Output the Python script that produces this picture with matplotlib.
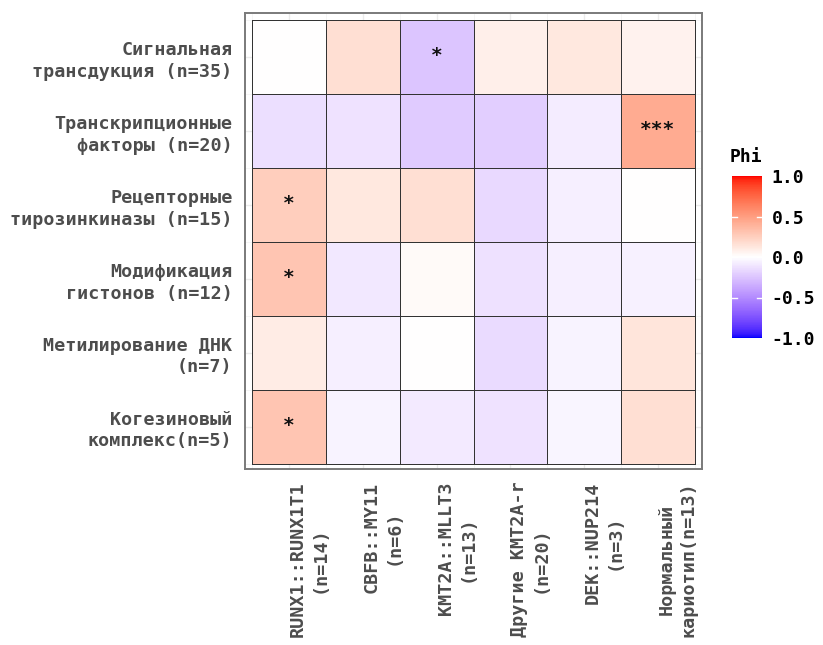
import numpy as np
import matplotlib
matplotlib.use("Agg")
import matplotlib.pyplot as plt
from matplotlib.colors import ListedColormap

plt.rcParams['font.family'] = ['DejaVu Sans Mono', 'DejaVu Sans']
plt.rcParams['font.weight'] = 'bold'

rows = ["Сигнальная\nтрансдукция (n=35)",
        "Транскрипционные\nфакторы (n=20)",
        "Рецепторные\nтирозинкиназы (n=15)",
        "Модификация\nгистонов (n=12)",
        "Метилирование ДНК\n(n=7)",
        "Когезиновый\nкомплекс(n=5)"]
cols = ["RUNX1::RUNX1T1\n(n=14)", "CBFB::MY11\n(n=6)", "KMT2A::MLLT3\n(n=13)",
        "Другие KMT2A-r\n(n=20)", "DEK::NUP214\n(n=3)", "Нормальный\nкариотип(n=13)"]

phi = np.array([
    [0.00, 0.17, -0.25, 0.08, 0.12, 0.07],
    [-0.14, -0.12, -0.22, -0.21, -0.08, 0.43],
    [0.25, 0.12, 0.17, -0.16, -0.07, 0.00],
    [0.30, -0.10, 0.03, -0.13, -0.07, -0.06],
    [0.10, -0.07, 0.00, -0.15, -0.05, 0.14],
    [0.30, -0.05, -0.09, -0.12, -0.04, 0.17],
])
stars = [
    ["", "", "*", "", "", ""],
    ["", "", "", "", "", "***"],
    ["*", "", "", "", "", ""],
    ["*", "", "", "", "", ""],
    ["", "", "", "", "", ""],
    ["*", "", "", "", "", ""],
]


# blue - white - red ramp interpolated in CIE Lab
def to_lab(rgb):
    c = np.asarray(rgb, float)
    c = np.where(c > 0.04045, ((c + 0.055) / 1.055) ** 2.4, c / 12.92)
    m = np.array([[0.4124, 0.3576, 0.1805],
                  [0.2126, 0.7152, 0.0722],
                  [0.0193, 0.1192, 0.9505]])
    xyz = m @ c / np.array([0.95047, 1.0, 1.08883])
    f = np.where(xyz > 0.008856, np.cbrt(xyz), 7.787 * xyz + 16 / 116)
    return np.array([116 * f[1] - 16, 500 * (f[0] - f[1]), 200 * (f[1] - f[2])])


def from_lab(lab):
    L, a, b = lab
    fy = (L + 16) / 116
    fx = fy + a / 500
    fz = fy - b / 200
    f = np.array([fx, fy, fz])
    xyz = np.where(f ** 3 > 0.008856, f ** 3, (f - 16 / 116) / 7.787)
    xyz = xyz * np.array([0.95047, 1.0, 1.08883])
    minv = np.array([[3.2406, -1.5372, -0.4986],
                     [-0.9689, 1.8758, 0.0415],
                     [0.0557, -0.2040, 1.0570]])
    c = minv @ xyz
    c = np.where(c > 0.0031308, 1.055 * np.clip(c, 0, None) ** (1 / 2.4) - 0.055, 12.92 * c)
    return np.clip(c, 0, 1)


lab_lo, lab_mid, lab_hi = to_lab([0, 0, 1]), to_lab([1, 1, 1]), to_lab([1, 0, 0])
ramp = []
for v in np.linspace(-1, 1, 256):
    if v < 0:
        ramp.append(from_lab(lab_mid + (lab_lo - lab_mid) * (-v)))
    else:
        ramp.append(from_lab(lab_mid + (lab_hi - lab_mid) * v))
cmap = ListedColormap(ramp)

fig = plt.figure(figsize=(8.23, 6.45), dpi=100)
ax = fig.add_axes([245 / 823, 1 - 469 / 645, 457 / 823, 456 / 645])

n = len(rows)
ax.set_xlim(-0.6, len(cols) - 0.4)
ax.set_ylim(n - 0.43, -0.6)
ax.set_xticks(range(len(cols)))
ax.set_yticks(range(n))
ax.grid(True, color='#ebebeb', lw=1)
ax.set_xticks(np.arange(-0.5, len(cols), 1), minor=True)
ax.set_yticks(np.arange(-0.5, n, 1), minor=True)
ax.grid(True, which='minor', color='#f4f4f4', lw=0.6)
ax.set_axisbelow(True)

mesh = ax.pcolormesh(np.arange(-0.5, len(cols)), np.arange(-0.5, n), phi,
                     cmap=cmap, vmin=-1, vmax=1, edgecolors='#333333', linewidth=0.7)
for i in range(n):
    for j in range(len(cols)):
        if stars[i][j]:
            ax.text(j, i - 0.02, stars[i][j], ha='center', va='center',
                    fontsize=14, color='#111111')

ax.set_yticklabels(rows, fontsize=13.2, color='#4d4d4d', linespacing=1.25)
ax.set_xticklabels(cols, fontsize=13.2, color='#4d4d4d', rotation=90,
                   rotation_mode='anchor', ha='right', va='top',
                   multialignment='center', linespacing=1.25)
ax.tick_params(which='major', length=0, pad=9)
ax.tick_params(which='minor', length=0)
for s in ax.spines.values():
    s.set_color('#7a7a7a')
    s.set_linewidth(1.4)

cax = fig.add_axes([732 / 823, 1 - 338 / 645, 30 / 823, 162 / 645])
cb = fig.colorbar(mesh, cax=cax, ticks=[-1, -0.5, 0, 0.5, 1])
cb.outline.set_visible(False)
cb.ax.set_yticklabels(['-1.0', '-0.5', '0.0', '0.5', '1.0'], fontsize=13, color='black')
cb.ax.tick_params(length=0, pad=7)
for t in [-0.5, 0, 0.5]:
    cax.plot([0, 0.18], [t, t], color='white', lw=1)
    cax.plot([0.82, 1], [t, t], color='white', lw=1)
fig.text(730 / 823, 1 - 157 / 645, 'Phi', fontsize=13, color='black', va='center')

fig.savefig('out.png', dpi=100, facecolor='white')
